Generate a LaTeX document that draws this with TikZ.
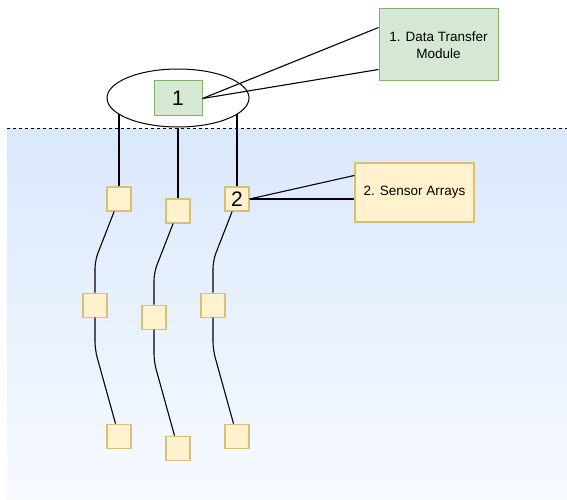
\documentclass[tikz,border=0pt]{standalone}
\usepackage{fontspec}
\setmainfont{Liberation Sans}
\usetikzlibrary{shapes.geometric,positioning}

\definecolor{verdefill}{RGB}{213,232,212}
\definecolor{verdedraw}{RGB}{130,179,102}
\definecolor{amarelofill}{RGB}{255,242,204}
\definecolor{amarelodraw}{RGB}{218,192,118}
\definecolor{aguatopo}{RGB}{218,232,252}
\definecolor{aguafundo}{RGB}{247,250,255}

\begin{document}
\begin{tikzpicture}[
        x=1pt, y=-1pt,
        modulo/.style={
            rectangle,
            draw=verdedraw,
            fill=verdefill,
            line width=1pt,
            inner sep=0pt,
            align=center
        },
        sensor/.style={
            rectangle,
            draw=amarelodraw,
            fill=amarelofill,
            line width=1.1pt,
            minimum size=24pt,
            inner sep=0pt
        },
        rotulo/.style={
            rectangle,
            draw=amarelodraw,
            fill=amarelofill,
            line width=1.1pt,
            inner sep=0pt,
            align=center
        },
        cabo/.style={line width=1.1pt, rounded corners=8pt},
        linha/.style={line width=1.1pt}
    ]
    \useasboundingbox (0,0) rectangle (567,500);

    % water
    \coordinate (superficieE) at (7,128);
    \coordinate (superficieD) at (567,128);
    \shade[top color=aguatopo, bottom color=aguafundo] (superficieE) rectangle (567,500);
    \draw[line width=0.8pt, dash pattern=on 3pt off 3pt] (superficieE) -- (superficieD);

    \node[ellipse, draw, fill=white, line width=1pt, minimum width=142pt, minimum height=58pt, inner sep=0pt] (boia) at (178,98) {};
    \node[modulo, minimum width=48pt, minimum height=35pt, font=\fontsize{21}{24}\selectfont] (modulo) at (178,98.5) {1};
    \node[modulo, minimum width=119pt, minimum height=72pt, font=\fontsize{13.5}{16.5}\selectfont] (moduloTexto) at (438.5,45) {1. Data Transfer\\Module};

    \node[sensor] (s11) at (119,199) {};
    \node[sensor] (s21) at (178,211) {};
    \node[sensor, font=\fontsize{21}{24}\selectfont] (s31) at (237,199) {2};
    \node[sensor, below=81pt of s11, xshift=-24pt] (s12) {};
    \node[sensor, below=81pt of s21, xshift=-24pt] (s22) {};
    \node[sensor, below=81pt of s31, xshift=-24pt] (s32) {};
    \node[sensor, below=106pt of s12, xshift=24pt] (s13) {};
    \node[sensor, below=106pt of s22, xshift=24pt] (s23) {};
    \node[sensor, below=106pt of s32, xshift=24pt] (s33) {};
    \node[rotulo, minimum width=119pt, minimum height=59pt, font=\fontsize{13.5}{16.5}\selectfont] (sensorTexto) at (414.5,192.5) {2. Sensor Arrays};

    % callouts
    \draw[linha] (modulo.east) -- ([yshift=-19pt]moduloTexto.north west);
    \draw[linha] (modulo.east) -- ([yshift=12pt]moduloTexto.south west);
    \draw[linha] (s31.east) -- ([yshift=-13pt]sensorTexto.north west);
    \draw[linha] (s31.east) -- (s31.east -| sensorTexto.west);

    % cables
    \draw[linha] (s11.north) -- (s11.north |- boia.195);
    \draw[linha] (s21.north) -- (boia.south);
    \draw[linha] (s31.north) -- (s31.north |- boia.345);

    \draw[cabo] (s11) -- ([yshift=32pt]s12.north) -- (s12.north);
    \draw[cabo] (s21) -- ([yshift=32pt]s22.north) -- (s22.north);
    \draw[cabo] (s31) -- ([yshift=32pt]s32.north) -- (s32.north);
    \draw[cabo] (s12.south) -- ([yshift=-32pt]s12.south) -- (s13);
    \draw[cabo] (s22.south) -- ([yshift=-32pt]s22.south) -- (s23);
    \draw[cabo] (s32.south) -- ([yshift=-32pt]s32.south) -- (s33);

    \end{tikzpicture}
\end{document}
